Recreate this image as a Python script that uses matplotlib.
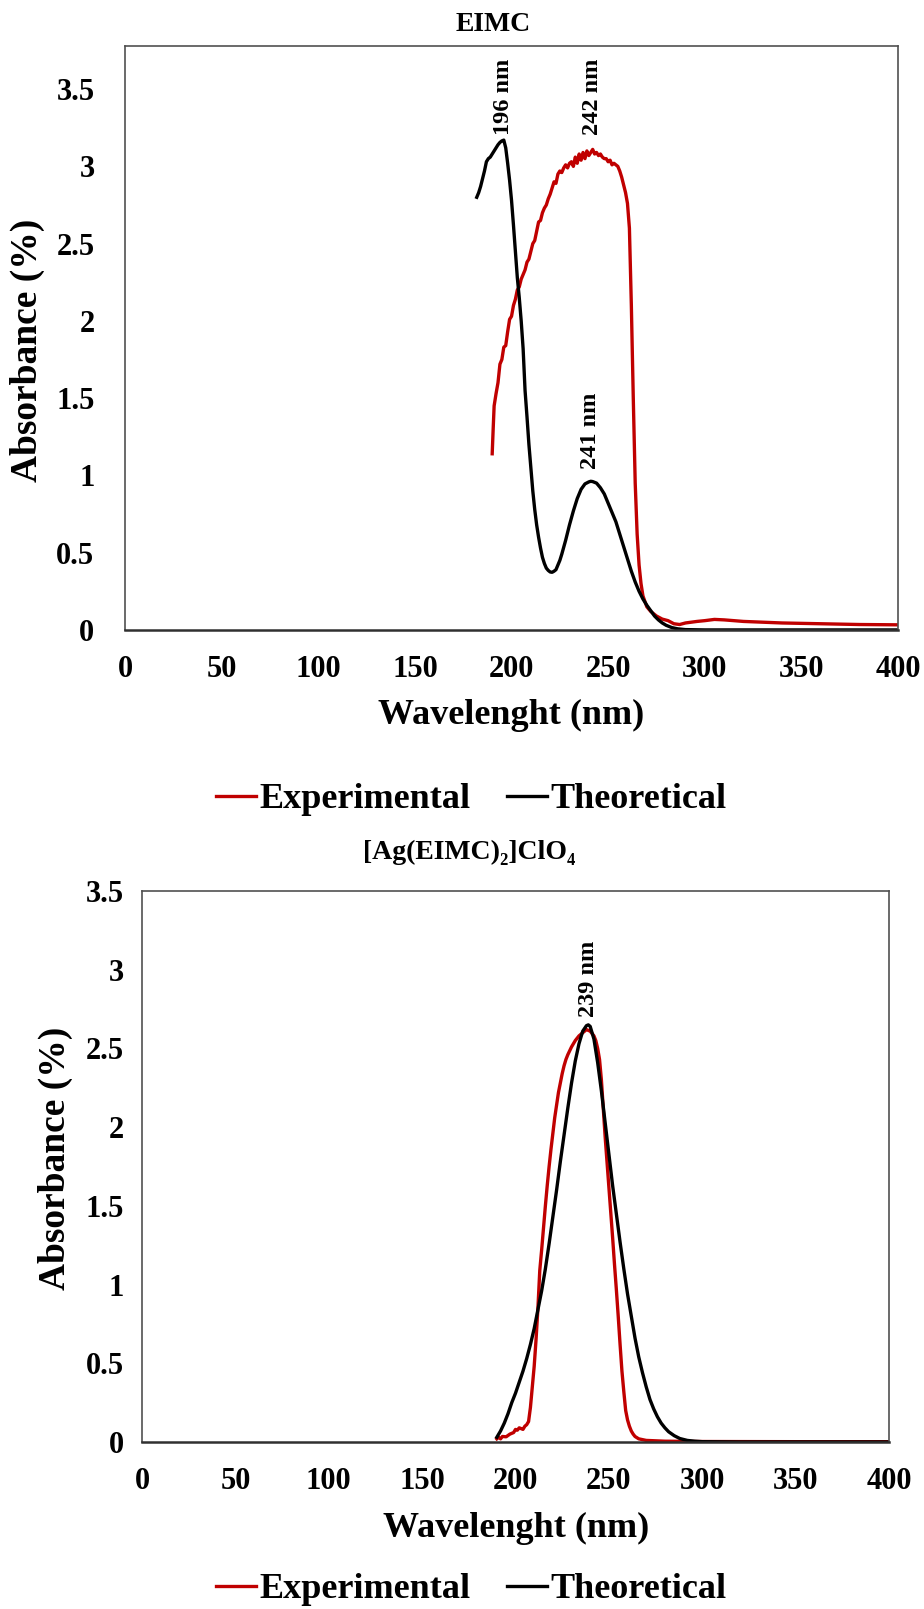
import matplotlib.pyplot as plt

plt.rcParams['font.family'] = ['Liberation Serif', 'DejaVu Serif']
plt.rcParams['font.weight'] = 'bold'

red = '#C00000'

# EIMC - experimental spectrum
eimc_exp_x = [190, 190.5, 191, 192, 193, 194, 195, 196, 197, 198, 199, 200, 201, 202, 203, 204, 205,
              206, 207, 208, 209, 210, 211, 212, 213, 214, 215, 216, 217, 218, 219, 220, 221, 222,
              223, 224, 225, 226, 227, 228, 229, 230, 231, 232, 233, 234, 235, 236, 237, 238, 239,
              240, 241, 242, 243, 244, 245, 246, 247, 248, 249, 250, 251, 252, 253, 254, 255, 256,
              257, 258, 259, 260, 261, 262, 263, 264, 265, 266, 267, 268, 270, 272, 275, 278, 281,
              284, 287, 290, 293, 296, 300, 305, 310, 320, 340, 360, 380, 400]
eimc_exp_y = [1.14, 1.30, 1.45, 1.53, 1.60, 1.72, 1.75, 1.83, 1.84, 1.93, 2.01, 2.03, 2.10, 2.14, 2.20,
              2.22, 2.27, 2.30, 2.33, 2.38, 2.40, 2.45, 2.50, 2.52, 2.58, 2.64, 2.65, 2.70, 2.73, 2.75,
              2.79, 2.82, 2.86, 2.90, 2.89, 2.95, 2.97, 2.96, 2.99, 3.01, 2.99, 3.02, 3.03, 3.00, 3.06,
              3.02, 3.08, 3.04, 3.09, 3.05, 3.10, 3.07, 3.09, 3.11, 3.08, 3.09, 3.07, 3.08, 3.06, 3.05,
              3.05, 3.03, 3.04, 3.01, 3.02, 3.01, 3.00, 2.97, 2.93, 2.88, 2.83, 2.76, 2.60, 2.10, 1.50,
              0.95, 0.62, 0.42, 0.30, 0.22, 0.15, 0.12, 0.09, 0.07, 0.06, 0.04, 0.035, 0.045, 0.05,
              0.055, 0.06, 0.068, 0.065, 0.055, 0.045, 0.04, 0.035, 0.033]

# EIMC - theoretical spectrum
eimc_th_x = [182, 183, 184, 185, 186, 187, 188, 189, 190, 191, 192, 193, 194, 195, 196, 197, 198, 199,
             200, 201, 202, 203, 204, 205, 206, 207, 208, 209, 210, 211, 212, 213, 214, 215, 216, 217,
             218, 219, 220, 221, 222, 223, 224, 225, 226, 228, 230, 232, 234, 236, 238, 240, 241, 242,
             244, 246, 248, 250, 252, 254, 256, 258, 260, 262, 264, 266, 268, 270, 272, 274, 276, 278,
             280, 283, 286, 290, 300, 350, 400]
eimc_th_y = [2.80, 2.83, 2.87, 2.92, 2.97, 3.03, 3.05, 3.06, 3.08, 3.10, 3.12, 3.14, 3.155, 3.165, 3.17,
             3.12, 3.02, 2.91, 2.78, 2.62, 2.45, 2.28, 2.15, 2.00, 1.82, 1.55, 1.38, 1.20, 1.05, 0.90,
             0.78, 0.68, 0.60, 0.53, 0.47, 0.43, 0.40, 0.385, 0.375, 0.373, 0.38, 0.39, 0.42, 0.45, 0.49,
             0.58, 0.68, 0.77, 0.85, 0.91, 0.945, 0.958, 0.962, 0.960, 0.95, 0.92, 0.88, 0.82, 0.76,
             0.70, 0.62, 0.54, 0.46, 0.38, 0.31, 0.25, 0.20, 0.16, 0.125, 0.09, 0.065, 0.045, 0.03,
             0.015, 0.007, 0.002, 0.0, 0.0, 0.0]

# [Ag(EIMC)2]ClO4 - experimental spectrum
ag_exp_x = [190, 191, 192, 193, 195, 197, 199, 200, 201, 202, 203, 204, 205, 206, 207, 208, 209, 210,
            211, 212, 213, 214, 215, 216, 217, 218, 219, 220, 221, 222, 223, 224, 225, 226, 227, 228,
            230, 232, 234, 236, 238, 240, 242, 243, 244, 245, 246, 247, 248, 249, 250, 251, 252, 253,
            254, 255, 256, 257, 258, 259, 260, 261, 262, 263, 264, 266, 270, 280, 300, 350, 400]
ag_exp_y = [0.02, 0.03, 0.02, 0.035, 0.033, 0.05, 0.06, 0.08, 0.075, 0.09, 0.085, 0.08, 0.10, 0.11, 0.13,
            0.22, 0.35, 0.48, 0.65, 0.85, 1.09, 1.22, 1.36, 1.50, 1.63, 1.75, 1.86, 1.96, 2.06, 2.14,
            2.22, 2.28, 2.34, 2.39, 2.43, 2.46, 2.51, 2.55, 2.58, 2.60, 2.62, 2.61, 2.58, 2.55, 2.50,
            2.43, 2.30, 2.12, 1.94, 1.78, 1.62, 1.46, 1.30, 1.13, 0.97, 0.80, 0.62, 0.45, 0.32, 0.20,
            0.14, 0.10, 0.07, 0.05, 0.035, 0.02, 0.01, 0.005, 0.003, 0.002, 0.002]

# [Ag(EIMC)2]ClO4 - theoretical spectrum
ag_th_x = [190, 192, 194, 196, 198, 200, 202, 204, 206, 208, 210, 212, 214, 216, 218, 220, 222, 224,
           226, 228, 230, 232, 234, 236, 238, 239, 240, 242, 244, 246, 248, 250, 252, 254, 256, 258,
           260, 262, 264, 266, 268, 270, 272, 274, 276, 278, 280, 282, 285, 288, 292, 296, 300, 320, 400]
ag_th_y = [0.03, 0.07, 0.12, 0.18, 0.25, 0.31, 0.38, 0.45, 0.53, 0.62, 0.72, 0.84, 0.96, 1.10, 1.26,
           1.43, 1.60, 1.78, 1.95, 2.12, 2.28, 2.42, 2.53, 2.61, 2.645, 2.65, 2.64, 2.56, 2.41, 2.23,
           2.03, 1.83, 1.63, 1.45, 1.27, 1.10, 0.94, 0.80, 0.66, 0.54, 0.44, 0.35, 0.27, 0.21, 0.16,
           0.12, 0.09, 0.065, 0.04, 0.022, 0.01, 0.005, 0.002, 0.0, 0.0]

# peak labels: (wavelength, y of text bottom)
eimc_peaks = [(196, 3.20), (242, 3.20), (241, 1.04)]
ag_peaks = [(239, 2.70)]

x_ticks = [0, 50, 100, 150, 200, 250, 300, 350, 400]
y_ticks = [0, 0.5, 1, 1.5, 2, 2.5, 3, 3.5]

fig = plt.figure(figsize=(9.24, 16.09), dpi=100)
ax1 = fig.add_axes([0.1353, 0.6085, 0.8366, 0.363])
ax2 = fig.add_axes([0.1537, 0.1038, 0.8084, 0.3424])


def style(ax, ymax, ypad):
    ax.set_xlim(0, 400)
    ax.set_ylim(0, ymax)
    ax.set_xticks(x_ticks)
    ax.set_xticklabels([str(v) for v in x_ticks])
    ax.set_yticks(y_ticks)
    ax.set_yticklabels(['0', '0.5', '1', '1.5', '2', '2.5', '3', '3.5'])
    ax.tick_params(axis='x', length=0, pad=18, labelsize=22)
    ax.tick_params(axis='y', length=0, pad=ypad, labelsize=22)
    for s in ax.spines.values():
        s.set_color('#505050')
        s.set_linewidth(1.2)
    ax.spines['bottom'].set_color('#303030')
    ax.spines['bottom'].set_linewidth(1.8)


# top panel
ax1.plot(eimc_exp_x, eimc_exp_y, color=red, lw=2.4, label='Experimental')
ax1.plot(eimc_th_x, eimc_th_y, color='black', lw=2.4, label='Theoretical')
style(ax1, 3.78, 22)
for wl, yt in eimc_peaks:
    ax1.text(wl, yt, f'{wl} nm', rotation=90, ha='center', va='bottom', fontsize=17.5)

# bottom panel
ax2.plot(ag_exp_x, ag_exp_y, color=red, lw=2.4, label='Experimental')
ax2.plot(ag_th_x, ag_th_y, color='black', lw=2.4, label='Theoretical')
style(ax2, 3.5, 13)
for wl, yt in ag_peaks:
    ax2.text(wl, yt, f'{wl} nm', rotation=90, ha='center', va='bottom', fontsize=17.5)

# titles and axis labels
fig.text(0.534, 0.9845, 'EIMC', ha='center', va='center', fontsize=20)
fig.text(0.508, 0.4705, '[Ag(EIMC)₂]ClO₄', ha='center', va='center', fontsize=20)

fig.text(0.030, 0.782, 'Absorbance (%)', rotation=90, ha='center', va='center', fontsize=27)
fig.text(0.060, 0.280, 'Absorbance (%)', rotation=90, ha='center', va='center', fontsize=27)
fig.text(0.553, 0.5553, 'Wavelenght (nm)', ha='center', va='center', fontsize=26)
fig.text(0.559, 0.0503, 'Wavelenght (nm)', ha='center', va='center', fontsize=26)

for ax, ypos in [(ax1, 0.503), (ax2, 0.012)]:
    h, l = ax.get_legend_handles_labels()
    fig.legend(h, l, loc='center', bbox_to_anchor=(0.51, ypos), ncol=2, frameon=False,
               fontsize=26, handlelength=1.1, handletextpad=0.1, columnspacing=1.0,
               borderaxespad=0, borderpad=0)

fig.savefig('out.png', dpi=100)
